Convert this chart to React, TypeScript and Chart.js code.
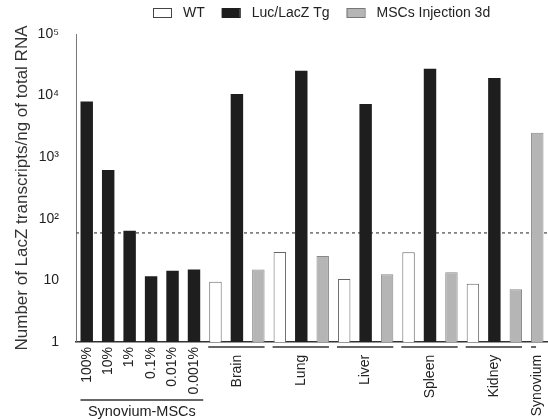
import React, { useEffect, useRef } from 'react';
import { Chart, registerables } from 'chart.js';

Chart.register(...registerables);

// ---------- data ----------
const dilutionLabels = ['100%', '10%', '1%', '0.1%', '0.01%', '0.001%'];
const dilutionValues = [8000, 620, 64, 11.7, 14.4, 15.1];
const tissueLabels = ['Brain', 'Lung', 'Liver', 'Spleen', 'Kidney'];
const wtValues = [9.5, 29, 10.5, 28.6, 8.8];
const tgValues = [10600, 25300, 7300, 27300, 19300];
const mscValues = [15.1, 24.9, 12.6, 13.5, 7.2];
const synoviumLabel = 'Synovium';
const synoviumMscValue = 2500;
const seriesNames = ['WT', 'Luc/LacZ Tg', 'MSCs Injection 3d'];
const dilutionGroupLabel = 'Synovium-MSCs';
const detectionLimit = 59;
const yTickValues = [1, 10, 100, 1000, 10000, 100000];
const yTickLabels = ['1', '10', '10²', '10³', '10⁴', '10⁵'];
const yTitle = 'Number of LacZ transcripts/ng of total RNA';

// ---------- styling ----------
const FONT = '"Liberation Sans", Arial, Helvetica, sans-serif';
const TEXT = '#222222';
const BAR_PCT = 0.58;

// ---------- build slots ----------
const labels: string[] = [];
const dilData: (number | null)[] = [];
const wtData: (number | null)[] = [];
const tgData: (number | null)[] = [];
const mscData: (number | null)[] = [];
const tissueGroups: { start: number; end: number }[] = [];

const pushSlot = (lab: string, d: number | null, w: number | null, t: number | null, m: number | null) => {
  labels.push(lab);
  dilData.push(d);
  wtData.push(w);
  tgData.push(t);
  mscData.push(m);
};

dilutionLabels.forEach((l, i) => pushSlot(l, dilutionValues[i], null, null, null));
tissueLabels.forEach((t, i) => {
  const start = labels.length;
  pushSlot('', null, wtValues[i], null, null);
  pushSlot(t, null, null, tgValues[i], null);
  pushSlot('', null, null, null, mscValues[i]);
  tissueGroups.push({ start, end: labels.length - 1 });
});
const synoviumIndex = labels.length;
pushSlot(synoviumLabel, null, null, null, synoviumMscValue);

const tissueLabelSet = new Set([...tissueLabels, synoviumLabel]);

const decorPlugin = {
  id: 'decor',
  beforeDatasetsDraw(chart: any) {
    const { ctx, chartArea, scales } = chart;
    const y = scales.y.getPixelForValue(detectionLimit);
    ctx.save();
    ctx.strokeStyle = '#555';
    ctx.lineWidth = 1.3;
    ctx.setLineDash([3, 3]);
    ctx.beginPath();
    ctx.moveTo(chartArea.left, y);
    ctx.lineTo(chartArea.right, y);
    ctx.stroke();
    ctx.restore();
  },
  afterDraw(chart: any) {
    const { ctx, chartArea, scales } = chart;
    const x = scales.x;
    const slot = x.getPixelForValue(1) - x.getPixelForValue(0);
    const half = (slot * BAR_PCT) / 2;
    ctx.save();
    ctx.strokeStyle = '#333';
    ctx.lineWidth = 1.5;
    const lineY = chartArea.bottom + 5;
    tissueGroups.forEach((g) => {
      ctx.beginPath();
      ctx.moveTo(x.getPixelForValue(g.start) - half - 1, lineY);
      ctx.lineTo(x.getPixelForValue(g.end) + half, lineY);
      ctx.stroke();
    });
    // synovium short line
    const sx = x.getPixelForValue(synoviumIndex) - half;
    ctx.beginPath();
    ctx.moveTo(sx, lineY);
    ctx.lineTo(sx + 5, lineY);
    ctx.stroke();
    // dilution group line and label
    const gx0 = x.getPixelForValue(0) - half;
    const gx1 = x.getPixelForValue(dilutionLabels.length - 1) + half + 3;
    const gy = chartArea.bottom + 58;
    ctx.beginPath();
    ctx.moveTo(gx0, gy);
    ctx.lineTo(gx1, gy);
    ctx.stroke();
    ctx.fillStyle = TEXT;
    ctx.font = `14.5px ${FONT}`;
    ctx.textAlign = 'center';
    ctx.textBaseline = 'middle';
    ctx.fillText(dilutionGroupLabel, (gx0 + gx1) / 2, gy + 12);

    // legend
    let lx = 153;
    const ly = 13;
    ctx.font = `14px ${FONT}`;
    ctx.textAlign = 'left';
    chart.data.datasets.forEach((ds: any) => {
      if (!ds.inLegend) return;
      ctx.fillStyle = ds.backgroundColor;
      ctx.fillRect(lx, ly - 4.5, 18, 9);
      ctx.strokeStyle = ds.legendBorder;
      ctx.lineWidth = 1;
      ctx.strokeRect(lx + 0.5, ly - 4.5, 18, 9);
      ctx.fillStyle = TEXT;
      ctx.fillText(ds.label, lx + 30, ly);
      lx += 30 + ctx.measureText(ds.label).width + 17;
    });
    ctx.restore();
  },
};

export default function App() {
  const ref = useRef<HTMLCanvasElement>(null);
  useEffect(() => {
    if (!ref.current) return;
    const common = {
      grouped: false,
      barPercentage: BAR_PCT,
      categoryPercentage: 1,
      skipNull: true,
    };
    const chart = new Chart(ref.current, {
      type: 'bar',
      data: {
        labels,
        datasets: [
          {
            ...common,
            label: dilutionGroupLabel,
            data: dilData,
            backgroundColor: '#1e1e1e',
            borderColor: '#1e1e1e',
            borderWidth: 0,
          },
          {
            ...common,
            label: seriesNames[0],
            data: wtData,
            backgroundColor: '#ffffff',
            borderColor: '#666666',
            borderWidth: 1,
            inLegend: true,
            legendBorder: '#444',
          },
          {
            ...common,
            label: seriesNames[1],
            data: tgData,
            backgroundColor: '#1e1e1e',
            borderColor: '#1e1e1e',
            borderWidth: 0,
            inLegend: true,
            legendBorder: '#1e1e1e',
          },
          {
            ...common,
            label: seriesNames[2],
            data: mscData,
            backgroundColor: '#b5b5b5',
            borderColor: '#888888',
            borderWidth: 1,
            inLegend: true,
            legendBorder: '#777',
          },
        ] as any,
      },
      options: {
        animation: false,
        responsive: false,
        maintainAspectRatio: false,
        layout: { padding: { top: 34, right: 0, left: 0, bottom: 0 } },
        plugins: {
          legend: { display: false },
          tooltip: { enabled: false },
        },
        scales: {
          x: {
            type: 'category',
            offset: true,
            grid: { display: false, drawTicks: false },
            border: { display: true, color: '#333', width: 1.5 },
            ticks: {
              autoSkip: false,
              minRotation: 90,
              maxRotation: 90,
              padding: 5,
              color: TEXT,
              font: { family: FONT, size: 14 },
              callback: (_v: any, i: number) =>
                tissueLabelSet.has(labels[i]) ? labels[i] + '  ' : labels[i],
            },
            afterFit: (s: any) => {
              s.height = 78;
              s.paddingLeft = 0;
              s.paddingRight = 0;
            },
          },
          y: {
            type: 'logarithmic',
            min: 1,
            max: 100000,
            grid: { display: false, drawTicks: false },
            border: { display: true, color: '#777', width: 1, dash: [2, 3] },
            afterBuildTicks: (s: any) => {
              s.ticks = yTickValues.map((v) => ({ value: v }));
            },
            ticks: {
              padding: 17,
              color: TEXT,
              font: { family: FONT, size: 14 },
              callback: (v: any) => {
                const i = yTickValues.indexOf(Number(v));
                return i >= 0 ? yTickLabels[i] : '';
              },
            },
            title: {
              display: true,
              text: yTitle,
              color: '#333',
              font: { family: FONT, size: 17 },
              padding: { top: 12, bottom: 0 },
            },
            afterFit: (s: any) => {
              s.width = 76;
            },
          },
        },
      } as any,
      plugins: [decorPlugin],
    });
    return () => chart.destroy();
  }, []);
  return (
    <div style={{ position: 'fixed', left: 0, top: 0, width: 548, height: 420, background: '#fff' }}>
      <canvas ref={ref} width={548} height={420} />
    </div>
  );
}
